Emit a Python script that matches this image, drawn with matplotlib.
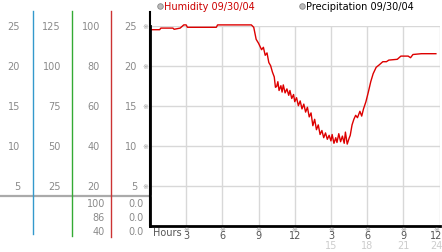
import matplotlib.pyplot as plt

# humidity trace for 09/30/04 (hours after midnight, value)
hours = [0.0, 0.8, 0.9, 1.9, 2.0, 2.5, 2.8, 3.0, 3.1, 5.5, 5.6, 8.4, 8.6, 8.8,
         9.0, 9.25, 9.4, 9.55, 9.7, 9.85, 10.0, 10.15, 10.3, 10.4, 10.5, 10.6,
         10.7, 10.85, 10.95, 11.05, 11.2, 11.35, 11.5, 11.6, 11.75, 11.9, 12.0,
         12.15, 12.3, 12.45, 12.6, 12.75, 12.9, 13.05, 13.2, 13.35, 13.5, 13.65,
         13.8, 13.95, 14.1, 14.25, 14.4, 14.55, 14.7, 14.85, 15.0, 15.1, 15.25,
         15.4, 15.5, 15.65, 15.8, 15.95, 16.1, 16.2, 16.35, 16.5, 16.6, 16.75,
         16.9, 17.05, 17.2, 17.4, 17.55, 17.7, 17.9, 18.1, 18.3, 18.5, 18.75,
         19.0, 19.3, 19.6, 19.8, 20.5, 20.8, 21.4, 21.6, 21.8, 22.5, 23.7]
humidity = [24.5, 24.5, 24.7, 24.7, 24.55, 24.7, 25.1, 25.1, 24.8, 24.8, 25.1,
            25.1, 24.8, 23.3, 22.8, 22.0, 22.3, 21.3, 21.6, 20.4, 20.0, 19.2,
            18.6, 17.3, 17.4, 18.0, 16.9, 17.5, 16.7, 17.6, 16.6, 17.1, 16.3,
            16.9, 15.9, 16.4, 15.5, 16.0, 15.0, 15.6, 14.6, 15.2, 14.2, 14.8,
            13.6, 14.1, 12.5, 13.3, 12.0, 12.6, 11.4, 11.9, 11.0, 11.6, 10.8,
            11.3, 10.6, 11.4, 10.3, 11.0, 10.4, 11.5, 10.5, 11.2, 10.3, 11.7,
            10.2, 10.9, 11.3, 12.6, 13.3, 13.8, 13.5, 14.3, 13.7, 14.6, 15.5,
            16.7, 18.0, 19.0, 19.8, 20.1, 20.5, 20.5, 20.7, 20.8, 21.2, 21.2,
            21.0, 21.4, 21.5, 21.5]

y_ticks = [25, 20, 15, 10, 5]
col_a = ['25', '20', '15', '10', '5']
col_b = ['125', '100', '75', '50', '25']
col_c = ['100', '80', '60', '40', '20']
col_d = ['25', '20', '15', '10', '5']
low_c = ['100', '86', '40']
low_d = ['0.0', '0.0', '0.0']
x_ticks = [3, 6, 9, 12, 15, 18, 21, 24]
x_top = ['3', '6', '9', '12', '3', '6', '9', '12']
x_sub = ['', '', '', '', '15', '18', '21', '24']
legend_items = ['Humidity 09/30/04', 'Precipitation 09/30/04']

W, H = 442, 253
fig = plt.figure(figsize=(W / 100, H / 100), dpi=100)
plt.rcParams['font.family'] = 'DejaVu Sans'

# main plot box in pixels
pl, pr, pt, pb = 150, 439.5, 26.7, 226.7
ax = fig.add_axes([pl / W, 1 - pb / H, (pr - pl) / W, (pb - pt) / H])
ax.plot(hours, humidity, color='#dd0000', lw=1, clip_on=False)
ax.set_xlim(0, 24)
ax.set_ylim(0, 25)
ax.set_xticks(x_ticks)
ax.set_yticks(y_ticks)
ax.grid(color='#d8d8d8', lw=1)
ax.set_axisbelow(True)
ax.tick_params(length=0, labelbottom=False, labelleft=False)
for s in ['top', 'right']:
    ax.spines[s].set_visible(False)
ax.spines['bottom'].set_linewidth(2)
ax.spines['left'].set_linewidth(2)

# overlay in pixel coords for the side panel, ticks and legend
ov = fig.add_axes([0, 0, 1, 1])
ov.set_xlim(0, W)
ov.set_ylim(H, 0)
ov.axis('off')

def ypix(v):
    return pb - v * (pb - pt) / 25

def xpix(h):
    return pl + h * (pr - pl) / 24

gray = '#8a8a8a'
fs = 7
for i, v in enumerate(y_ticks):
    y = ypix(v)
    ov.text(20, y, col_a[i], ha='right', va='center', fontsize=fs, color=gray)
    ov.text(61, y, col_b[i], ha='right', va='center', fontsize=fs, color=gray)
    ov.text(100, y, col_c[i], ha='right', va='center', fontsize=fs, color=gray)
    ov.text(137, y, col_d[i], ha='right', va='center', fontsize=fs, color=gray)
    ov.text(145.5, y, '※', ha='center', va='center', fontsize=5, color='#999999')

for i, row_y in enumerate([204.5, 218.5, 232.5]):
    ov.text(105, row_y, low_c[i], ha='right', va='center', fontsize=fs, color=gray)
    ov.text(144, row_y, low_d[i], ha='right', va='center', fontsize=fs, color=gray)

ov.plot([0, 150], [197, 197], color='#aaaaaa', lw=1.6)
ov.plot([33.3, 33.3], [12, 235], color='#3399cc', lw=1)
ov.plot([72.3, 72.3], [12, 237], color='#33aa33', lw=1)
ov.plot([111, 111], [12, 238], color='#cc3333', lw=1)
ov.plot([150, 150], [13, 226], color='black', lw=1.5)

ov.text(153, 233, 'Hours', ha='left', va='center', fontsize=fs, color='#555555')
for i, h in enumerate(x_ticks):
    x = min(xpix(h), 436)
    ov.text(x, 230, '※', ha='center', va='center', fontsize=5, color='#999999')
    ov.text(x, 236.5, x_top[i], ha='center', va='center', fontsize=fs, color='#555555')
    if x_sub[i]:
        ov.text(x, 246.5, x_sub[i], ha='center', va='center', fontsize=fs, color='#cccccc')

ov.plot([160, 302], [7, 7], 'o', ls='none', ms=4, color='#bbbbbb', mec='#888888', mew=0.6)
ov.text(164, 7, legend_items[0], ha='left', va='center', fontsize=fs, color='#cc0000')
ov.text(306, 7, legend_items[1], ha='left', va='center', fontsize=fs, color='black')

fig.savefig('out.png', dpi=100)
